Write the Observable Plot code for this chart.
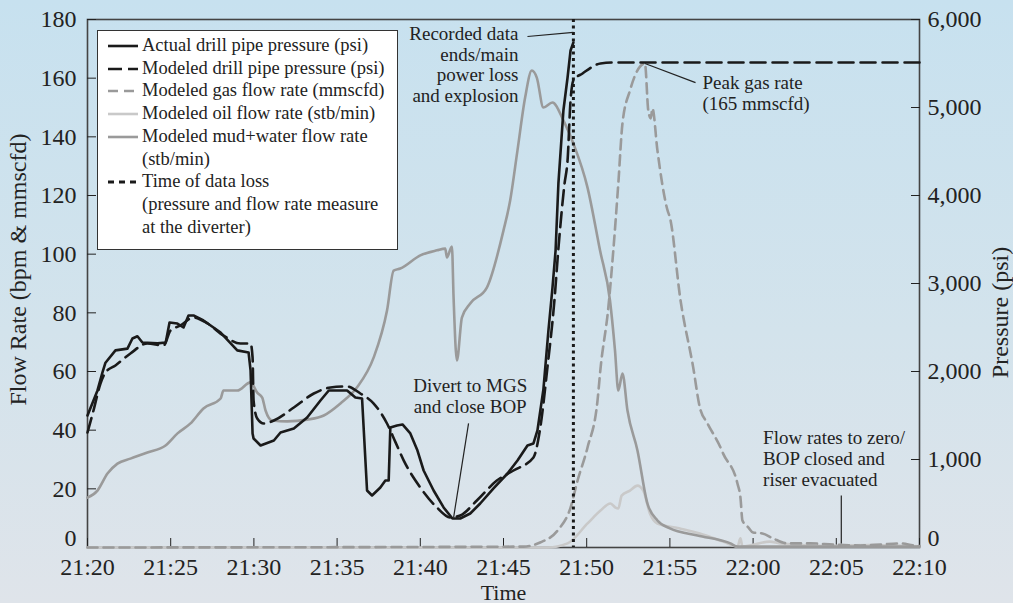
<!DOCTYPE html>
<html>
<head>
<meta charset="utf-8">
<script src="https://cdn.jsdelivr.net/npm/d3@7"></script>
<script src="https://cdn.jsdelivr.net/npm/@observablehq/plot@0.6"></script>
<style>
html,body{margin:0;padding:0;}
body{width:1013px;height:603px;overflow:hidden;background:linear-gradient(180deg,#c7e1ef 0%,#d3e3ec 55%,#dfe4ea 100%);font-family:"Liberation Serif",serif;}
#wrap{position:relative;width:1013px;height:603px;}
#legend{position:absolute;left:97px;top:30px;width:301px;height:220px;box-sizing:border-box;background:#fff;border:1.5px solid #333;padding-top:3px;color:#222;font-size:18.5px;line-height:22.7px;}
#legend .row{position:relative;padding-left:44px;white-space:nowrap;}
#legend svg{position:absolute;left:9px;top:10px;}
</style>
</head>
<body>
<div id="wrap"></div>
<script>
// ---- data (minutes after 21:20) ----
const actualT = [0,0.36,0.6,0.9,1.08,1.68,2.4,2.7,3.0,3.3,4.2,4.7,4.93,5.4,5.77,6.07,6.37,6.97,8.0,9.0,9.68,9.8,9.92,9.98,10.4,11.2,11.6,12.4,13.2,14.0,14.5,15.6,16.1,16.5,16.8,17.1,17.6,17.9,18.1,18.2,18.6,18.93,19.4,19.83,20.2,20.8,21.4,21.93,22.4,23.0,23.6,24.4,25.24,25.84,26.44,26.8,27.04,27.4,27.7,27.94,28.13,28.3,28.6,28.85,29.03,29.2];
const actualPsi = [1500,1670,1785,1990,2100,2240,2260,2375,2400,2330,2320,2330,2557,2545,2500,2637,2637,2580,2443,2240,2216,2012,1296,1239,1159,1216,1307,1352,1477,1670,1784,1784,1704,1693,648,591,682,761,761,1364,1387,1398,1296,1102,875,648,455,330,330,386,500,671,841,989,1159,1182,1330,1800,2466,2944,3375,4137,4966,5341,5648,5739];

const modeledT = [0,0.36,0.78,1.08,1.68,2.58,3.6,4.57,4.99,5.59,6.37,7.21,8.17,9.19,9.8,9.92,9.98,10.2,10.6,11.2,12.4,13.6,14.6,15.6,16.4,17.2,18.0,18.5,19.0,20.0,21.0,21.8,22.4,23.4,24.6,25.6,26.8,27.2,27.64,28.06,28.3,28.67,28.85,29.03,29.2,29.75,30.83,31.85,50];
const modeledPsi = [1307,1557,1864,1989,2069,2205,2319,2296,2466,2523,2614,2546,2409,2319,2319,2160,1670,1466,1409,1443,1591,1750,1818,1830,1750,1636,1409,1200,990,682,455,341,364,534,761,875,1023,1350,2046,2807,3398,4137,4400,5080,5307,5387,5500,5512,5512];

const gasT = [0,26.2,27.2,28.25,29.03,29.45,30.05,30.65,30.83,31.3,31.6,31.9,32.15,32.6,33.5,33.7,33.85,33.95,34.25,34.86,35.0,35.64,36.4,36.8,37.26,38.04,38.2,39.06,39.24,39.36,39.72,40.0,40.56,41.2,42.07,43.45,44.8,46.45,47.66,48.86,49.64,50];
const gasFlow = [0,0.3,1.7,5.8,13.6,22.8,34.1,50.1,61,81.8,101.3,124.1,144.6,155.8,165,149,146.3,149.7,135.4,114.9,112.5,84.2,61.4,47.7,42.3,34.1,32.0,21.8,17.0,9.2,6.8,5.1,4.8,3.1,1.4,1.4,1.0,0.7,1.0,1.4,0.7,0.5];

const oilT = [0,27.64,28.85,30.05,30.83,31.43,31.73,31.9,32.1,32.6,33.05,33.4,33.8,34.25,35.6,36.8,38.2,39.06,39.24,39.36,41.0,41.6,44,47,50];
const oilFlow = [0,0,1.4,8.2,12.6,15.0,13.6,13.3,17.7,19.4,21.1,19.4,11.6,8.2,6.5,4.8,2.0,0.3,3.1,0.3,2.0,1.4,0.6,0.8,0.4];

const mudT = [0,0.6,1.2,1.8,2.58,3.6,4.69,5.41,6.19,6.97,8.0,8.17,9.0,9.8,10.2,10.5,10.7,11.1,12.0,13.2,14.2,15.2,16.2,17.2,18.0,18.4,18.8,20.0,21.0,21.5,21.6,21.9,22.0,22.2,22.5,23.0,24.0,25.0,25.4,25.84,26.3,26.7,27.0,27.4,27.94,28.6,29.2,30.05,30.8,31.4,31.7,31.9,32.15,32.45,33.05,33.65,34.25,35.0,36.66,38.64,39.06,50];
const mudFlow = [17.0,19.4,25.2,28.6,30.3,32.4,34.8,38.9,42.3,47.4,50.8,53.5,53.5,56.3,52.8,51.1,46.7,43.3,43.0,43.6,45.0,49.1,54.6,64.8,80.8,94.4,95.1,99.6,101.3,101.9,98.9,102.6,85.2,63.8,78.4,83.2,88.6,108.1,118.3,135.4,153.4,162.6,160.2,150.0,151.7,145.6,137.7,122.7,101.3,84.2,67.2,53.5,59.3,46.7,33.1,15.0,9.2,6.5,4.1,1.4,0.3,0.3];

const dataLossT = 29.2;
const leftTicks = [0,20,40,60,80,100,120,140,160,180];
const rightTicksPsi = [0,1000,2000,3000,4000,5000,6000];

const legendItems = [
  {label:["Actual drill pipe pressure (psi)"], color:"#1a1a1a", dash:"none", w:2.6},
  {label:["Modeled drill pipe pressure (psi)"], color:"#1a1a1a", dash:"14,6", w:2.6},
  {label:["Modeled gas flow rate (mmscfd)"], color:"#9a9a9a", dash:"10,6", w:2.6},
  {label:["Modeled oil flow rate (stb/min)"], color:"#c9c9c9", dash:"none", w:2.6},
  {label:["Modeled mud+water flow rate","(stb/min)"], color:"#9a9a9a", dash:"none", w:2.6},
  {label:["Time of data loss","(pressure and flow rate measure","at the diverter)"], color:"#1a1a1a", dash:"6,5", w:3}
];

const notes = [
  {t:25.9, v:178.2, text:"Recorded data\nends/main\npower loss\nand explosion", anchor:"end"},
  {t:36.96, v:161.4, text:"Peak gas rate\n(165 mmscfd)", anchor:"start"},
  {t:23.0, v:58.1, text:"Divert to MGS\nand close BOP", anchor:"middle"},
  {t:40.6, v:40.4, text:"Flow rates to zero/\nBOP closed and\nriser evacuated", anchor:"start"}
];
const leaders = [
  {t1:26.44, v1:174.2, t2:29.2, v2:175.6},
  {t1:33.5, v1:165.0, t2:36.54, v2:158.5},
  {t1:22.9, v1:42.3, t2:22.0, v2:10.2},
  {t1:45.3, v1:17.7, t2:45.3, v2:1.4}
];

// ---- build ----
const base = Date.UTC(2010,3,20,21,20);
const toDate = m => new Date(base + m*60000);
const PSI = 180/6000;
const series = (T, V, k=1) => T.map((t,i) => ({x: toDate(t), y: V[i]*k}));

const actual = series(actualT, actualPsi, PSI);
const modeled = series(modeledT, modeledPsi, PSI);
const gas = series(gasT, gasFlow);
const oil = series(oilT, oilFlow);
const mud = series(mudT, mudFlow);

const ink = "#222";
const noteMark = a => Plot.text(notes.filter(d => d.anchor === a), {x: d => toDate(d.t), y: "v", text: "text", textAnchor: a, lineAnchor: "top", lineHeight: 1.1, fontSize: 19, fill: ink});
const psiFmt = d => d3.format(",")(Math.round(d/PSI));

const chart = Plot.plot({
  width: 1013, height: 603,
  marginLeft: 87, marginRight: 94, marginTop: 19, marginBottom: 56,
  style: {background: "transparent", fontFamily: "Liberation Serif, serif", fontSize: "24px", color: ink},
  x: {type: "utc", domain: [toDate(0), toDate(50)]},
  y: {domain: [0, 180]},
  marks: [
    Plot.frame({stroke: "#444", strokeWidth: 1.6}),
    Plot.axisX({ticks: d3.utcMinute.every(5), tickFormat: d3.utcFormat("%H:%M"), tickSize: -9, tickPadding: 19, label: null, fontSize: 24, stroke: "#222"}),
    Plot.axisY({anchor: "left", ticks: leftTicks.filter(d => d > 0), tickSize: -9, tickPadding: 20, label: null, fontSize: 24}),
    Plot.axisY({anchor: "left", ticks: [0], tickSize: 0, tickPadding: 11, dy: -9, label: null, fontSize: 24}),
    Plot.axisY({anchor: "right", ticks: rightTicksPsi.filter(p => p > 0).map(p => p*PSI), tickFormat: psiFmt, tickSize: -9, tickPadding: 17, label: null, fontSize: 24}),
    Plot.axisY({anchor: "right", ticks: [0], tickFormat: psiFmt, tickSize: 0, tickPadding: 8, dy: -9, label: null, fontSize: 24}),
    Plot.text(["Flow Rate (bpm & mmscfd)"], {frameAnchor: "left", textAnchor: "middle", dx: -69, dy: -14, rotate: -90, fontSize: 24, fill: ink}),
    Plot.text(["Pressure (psi)"], {frameAnchor: "right", textAnchor: "middle", dx: 81, dy: 29, rotate: -90, fontSize: 24, fill: ink}),
    Plot.text(["Time"], {frameAnchor: "bottom", dy: 52, fontSize: 22, fill: ink}),
    Plot.line(oil, {x: "x", y: "y", stroke: "#c9c9c9", strokeWidth: 2.6, curve: "monotone-x"}),
    Plot.line(mud, {x: "x", y: "y", stroke: "#9a9a9a", strokeWidth: 2.6, curve: "monotone-x"}),
    Plot.line(gas, {x: "x", y: "y", stroke: "#9a9a9a", strokeWidth: 2.6, strokeDasharray: "10,6", curve: "monotone-x"}),
    Plot.line(modeled, {x: "x", y: "y", stroke: "#1a1a1a", strokeWidth: 2.6, strokeDasharray: "15,7", curve: "monotone-x"}),
    Plot.line(actual, {x: "x", y: "y", stroke: "#1a1a1a", strokeWidth: 2.6}),
    Plot.ruleX([toDate(dataLossT)], {stroke: "#1a1a1a", strokeWidth: 3, strokeDasharray: "3,3.5"}),
    Plot.link(leaders, {x1: d => toDate(d.t1), y1: "v1", x2: d => toDate(d.t2), y2: "v2", stroke: "#222", strokeWidth: 1.2}),
    noteMark("end"),
    noteMark("start"),
    noteMark("middle")
  ]
});
const wrap = document.getElementById("wrap");
wrap.appendChild(chart);

// legend (HTML overlay)
const lg = document.createElement("div");
lg.id = "legend";
legendItems.forEach(it => {
  it.label.forEach((ln, j) => {
    const row = document.createElement("div");
    row.className = "row";
    row.textContent = ln;
    if (j === 0) {
      const ns = "http://www.w3.org/2000/svg";
      const s = document.createElementNS(ns, "svg");
      s.setAttribute("width", 32); s.setAttribute("height", 4);
      const l = document.createElementNS(ns, "line");
      l.setAttribute("x1", 1); l.setAttribute("x2", 31); l.setAttribute("y1", 2); l.setAttribute("y2", 2);
      l.setAttribute("stroke", it.color); l.setAttribute("stroke-width", it.w);
      if (it.dash !== "none") l.setAttribute("stroke-dasharray", it.dash);
      s.appendChild(l);
      row.appendChild(s);
    }
    lg.appendChild(row);
  });
});
wrap.appendChild(lg);
</script>
</body>
</html>
